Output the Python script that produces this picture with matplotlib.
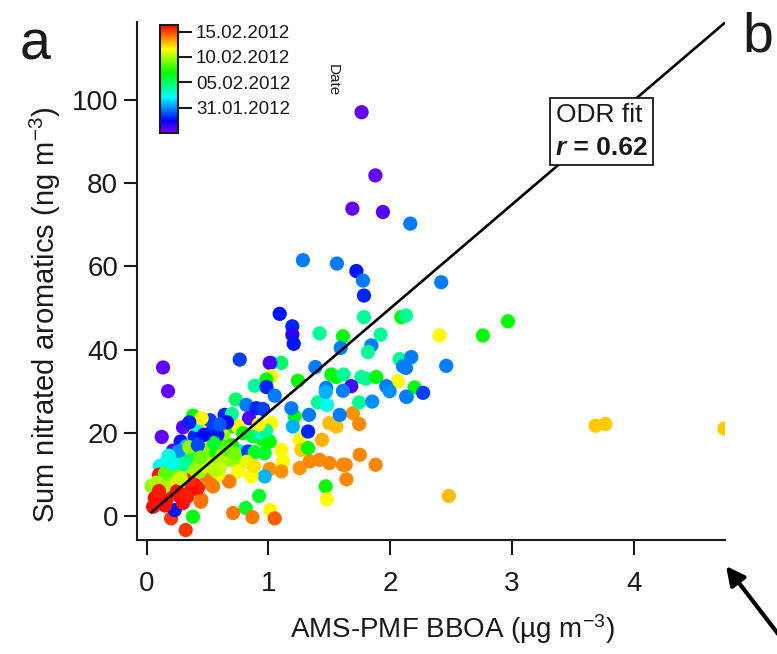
import numpy as np
import matplotlib
matplotlib.use("Agg")
import matplotlib.pyplot as plt
from matplotlib.colors import ListedColormap, hsv_to_rgb
from matplotlib.offsetbox import TextArea, HPacker, VPacker, AnnotationBbox

# AMS-PMF BBOA (ug m-3), sum nitrated aromatics (ng m-3), date (days after 26.01.2012)
bboa = [1.765, 1.878, 1.689, 1.940, 2.165, 1.283, 1.562, 1.722, 1.776, 2.419,
        1.784, 1.092, 1.784, 2.091, 2.13, 1.196, 1.196, 1.207, 1.420, 1.612,
        1.921, 2.405, 2.761, 2.967, 1.845, 1.817, 1.593, 2.077, 2.173, 2.105,
        2.46, 1.385, 1.106, 1.024, 1.01, 1.024, 1.242, 1.516, 1.557, 1.617,
        1.763, 1.80, 1.886, 2.064, 1.68, 1.967, 2.13, 1.474, 2.20, 2.27,
        2.137, 0.134, 0.175, 0.764, 0.887, 0.983, 0.983, 1.051, 0.731, 0.818,
        0.90, 0.955, 0.84, 1.024, 0.38, 0.484, 0.503, 0.298, 0.123, 0.279,
        0.216, 0.325, 0.394, 0.449, 0.545, 0.64, 0.408, 0.695, 0.75, 0.791,
        0.873, 0.955, 0.94, 0.627, 1.106, 1.12, 1.256, 1.106, 1.01, 0.969,
        0.86, 0.681, 0.545, 0.449, 0.923, 0.813, 0.709, 0.868, 1.015, 1.051,
        0.38, 0.2, 0.32, 0.23, 1.256, 1.27, 1.325, 1.50, 1.557, 1.44,
        1.338, 1.42, 1.50, 1.612, 1.47, 1.48, 1.694, 1.745, 1.75, 1.88,
        1.64, 1.634, 1.325, 1.333, 1.215, 1.188, 1.20, 1.585, 1.406, 1.48,
        1.47, 1.612, 1.745, 1.852, 1.995, 2.131, 3.686, 3.768, 4.745, 2.482,
        0.166, 0.244, 0.107, 0.271, 0.353, 0.49, 0.572, 0.627, 0.654, 0.723,
        0.764, 0.832, 0.887, 0.969, 1.01, 0.75, 0.676, 0.586, 0.53, 0.49,
        0.435, 0.394, 0.42, 0.298, 0.216, 0.12, 0.039, 0.216, 0.101, 0.066,
        0.107, 0.162, 0.052, 0.271, 0.298, 0.366, 0.443,
        0.30, 0.55, 0.60, 0.45, 0.20, 0.15, 0.08, 0.40, 0.33, 0.60,
        0.50, 0.70, 0.82, 0.88, 0.25, 0.12, 0.35, 0.26, 0.18, 0.52,
        0.58, 0.45, 0.70, 0.66, 0.30, 0.55, 0.98, 0.92,
        0.35, 0.62, 0.48, 0.66, 0.14, 0.22, 0.19, 0.15, 0.25, 0.33,
        0.35, 0.47, 0.42, 0.60, 0.40, 0.56, 0.72, 0.28, 0.10, 0.44]
nitro = [97.1, 81.9, 73.9, 73.1, 70.3, 61.5, 60.7, 58.9, 56.6, 56.2,
         53.0, 48.6, 47.8, 47.8, 48.2, 45.6, 43.6, 41.4, 43.9, 43.2,
         43.6, 43.4, 43.4, 46.8, 41.0, 39.4, 40.4, 37.7, 38.2, 36.0,
         36.1, 35.8, 36.8, 36.8, 36.8, 33.6, 32.5, 34.0, 33.4, 34.0,
         33.4, 33.0, 33.4, 32.4, 31.2, 31.2, 35.6, 30.8, 30.9, 29.6,
         28.6, 35.7, 30.0, 37.6, 31.3, 32.8, 31.0, 28.9, 28.0, 26.7,
         25.9, 25.7, 23.5, 22.3, 24.1, 22.7, 21.1, 21.3, 19.0, 17.9,
         15.7, 16.7, 19.1, 17.5, 20.7, 24.3, 21.9, 21.5, 21.5, 19.9,
         19.1, 18.3, 19.9, 19.5, 15.9, 13.1, 11.5, 10.7, 11.3, 9.5,
         9.5, 8.3, 7.1, 3.9, 4.8, 1.9, 0.7, -0.3, 1.4, -0.6,
         -0.2, -0.6, -3.4, 1.4, 18.3, 15.9, 16.3, 22.3, 21.5, 18.3,
         13.1, 13.5, 12.7, 12.3, 7.1, 4.0, 24.7, 22.1, 14.7, 12.3,
         8.8, 12.3, 20.3, 24.3, 23.9, 25.9, 21.5, 24.3, 27.3, 26.7,
         29.8, 30.1, 27.3, 27.5, 30.0, 28.7, 21.7, 22.1, 21.0, 4.8,
         13.3, 13.5, 12.0, 11.5, 13.1, 15.5, 15.1, 18.7, 13.5, 13.1,
         15.5, 15.5, 15.3, 15.1, 17.9, 10.7, 8.3, 9.9, 7.5, 9.5,
         10.7, 7.5, 6.7, 5.1, 6.3, 8.7, 7.2, 9.5, 9.9, 4.3,
         4.3, 3.9, 2.2, 4.7, 3.1, 6.3, 3.4,
         10.0, 12.5, 11.5, 13.5, 11.0, 10.2, 8.0, 15.0, 14.0, 17.0,
         18.5, 17.0, 13.0, 12.0, 8.0, 5.5, 8.5, 15.5, 14.5, 23.0,
         19.5, 23.5, 24.5, 22.5, 12.5, 17.5, 20.5, 22.0,
         16.5, 14.5, 12.0, 16.0, 7.0, 12.5, 13.0, 2.5, 6.0, 4.5,
         22.5, 19.5, 17.0, 22.0, 11.0, 11.0, 15.0, 9.0, 6.0, 14.0]
date_day = [0.5, 0.5, 0.5, 0.8, 4.7, 4.7, 4.7, 2.8, 4.7, 4.7,
            3.0, 2.8, 9.0, 11.8, 9.0, 3.0, 1.6, 2.8, 9.0, 11.8,
            9.0, 16.6, 11.8, 11.8, 4.7, 9.0, 4.7, 9.0, 4.7, 4.7,
            4.7, 4.7, 10.0, 5.7, 1.0, 16.6, 11.8, 11.8, 11.8, 9.0,
            9.0, 9.0, 11.8, 16.6, 1.0, 4.7, 4.7, 4.7, 11.8, 3.5,
            5.7, 0.5, 0.5, 3.5, 9.0, 11.8, 3.0, 4.7, 10.0, 4.7,
            3.0, 3.5, 1.0, 16.6, 11.8, 19.5, 16.6, 0.8, 0.5, 2.8,
            0.8, 6.0, 3.0, 11.8, 3.5, 3.0, 8.0, 11.8, 16.6, 11.8,
            10.5, 11.8, 8.0, 15.0, 16.6, 16.6, 18.5, 18.5, 18.5, 5.7,
            16.6, 18.0, 19.0, 19.0, 11.0, 11.0, 19.0, 19.0, 16.6, 19.5,
            11.5, 20.3, 20.3, 2.8, 16.6, 17.5, 11.8, 17.8, 17.8, 18.0,
            18.8, 18.8, 18.8, 18.8, 11.8, 16.6, 18.5, 18.8, 18.8, 18.8,
            18.8, 18.8, 3.0, 4.7, 11.8, 4.7, 5.7, 4.7, 9.0, 7.5,
            5.7, 4.7, 9.0, 5.0, 5.0, 4.7, 17.5, 17.5, 17.5, 17.8,
            7.1, 7.5, 7.5, 11.8, 14.5, 14.5, 11.8, 14.5, 14.5, 14.5,
            8.0, 3.5, 11.0, 11.0, 11.8, 16.6, 19.0, 16.6, 19.0, 19.0,
            14.5, 20.8, 20.8, 20.3, 21.0, 14.5, 14.5, 14.5, 21.0, 21.0,
            21.0, 21.0, 21.0, 21.0, 21.0, 21.0, 19.2,
            14.5, 14.5, 15.6, 15.0, 14.0, 13.5, 15.0, 12.5, 10.0, 13.0,
            15.6, 12.0, 16.0, 17.0, 16.0, 21.0, 20.5, 5.0, 7.5, 3.5,
            2.8, 16.6, 9.0, 2.0, 9.0, 11.0, 9.0, 16.6,
            14.5, 15.0, 15.6, 13.5, 15.0, 8.0, 7.5, 21.0, 21.0, 20.8,
            3.0, 2.5, 3.8, 4.0, 14.8, 15.2, 14.0, 15.6, 20.8, 13.8]

date_ticks = [5, 10, 15, 20]
date_labels = ["31.01.2012", "05.02.2012", "10.02.2012", "15.02.2012"]
date_range = (0, 21.3)

fit_slope = 25.0
fit_intercept = -0.1
fit_x = np.array([0.04, 4.75])

plt.rcParams["font.family"] = ["Liberation Sans", "DejaVu Sans"]
plt.rcParams["mathtext.fontset"] = "custom"
plt.rcParams["mathtext.rm"] = "Liberation Sans"
plt.rcParams["mathtext.it"] = "Liberation Sans:italic"
plt.rcParams["mathtext.bf"] = "Liberation Sans:bold"
txt = "#1a1a1a"

# Igor-like rainbow: hue 270 deg (violet) to 0 deg (red)
hue = np.linspace(270, 0, 256) / 360.0
cmap = ListedColormap(hsv_to_rgb(np.column_stack([hue, np.ones(256), np.ones(256)])))

fig = plt.figure(figsize=(7.77, 6.54), dpi=100)
ax = fig.add_axes([137 / 777, 1 - 540 / 654, 588 / 777, 518 / 654])

sc = ax.scatter(bboa, nitro, c=date_day, cmap=cmap, vmin=date_range[0], vmax=date_range[1],
                s=105, edgecolors="none", zorder=2)
ax.plot(fit_x, fit_slope * fit_x + fit_intercept, color="black", lw=1.9, zorder=3)

ax.set_xlim(-0.08, 4.75)
ax.set_ylim(-5.8, 118.8)
ax.set_xticks([0, 1, 2, 3, 4])
ax.set_yticks([0, 20, 40, 60, 80, 100])
for s in ["top", "right"]:
    ax.spines[s].set_visible(False)
for s in ["left", "bottom"]:
    ax.spines[s].set_linewidth(1.5)
    ax.spines[s].set_color(txt)
ax.tick_params(axis="x", direction="out", length=10.5, width=1.5, pad=12, labelsize=20, colors=txt)
ax.tick_params(axis="y", direction="out", length=9.5, width=1.5, pad=4, labelsize=20, colors=txt)

ax.set_xlabel("AMS-PMF BBOA (µg m$^{-3}$)", fontsize=20, color=txt, va="center")
ax.set_ylabel("Sum nitrated aromatics (ng m$^{-3}$)", fontsize=21, color=txt, va="center")
ax.xaxis.set_label_coords(0.536, -0.172)
ax.yaxis.set_label_coords(-0.156, 0.434)

# ODR fit box
t1 = TextArea("ODR fit", textprops=dict(fontsize=19, color=txt))
t2 = HPacker(children=[TextArea("r", textprops=dict(fontsize=19, style="italic", weight="bold", color=txt)),
                       TextArea(" = 0.62", textprops=dict(fontsize=19, weight="bold", color=txt))],
             pad=0, sep=0)
box = VPacker(children=[t1, t2], align="left", pad=0, sep=6)
ab = AnnotationBbox(box, (3.736, 92.5), xycoords="data", frameon=True, pad=0.4, zorder=4,
                    bboxprops=dict(edgecolor=txt, lw=1.3, facecolor="white"))
ax.add_artist(ab)

# colorbar
cax = fig.add_axes([160 / 777, 1 - 133 / 654, 18 / 777, 108 / 654])
cb = fig.colorbar(sc, cax=cax)
cb.set_ticks(date_ticks)
cb.set_ticklabels(date_labels)
cb.ax.tick_params(labelsize=13.5, length=10, width=1.5, pad=3, colors=txt)
cb.outline.set_linewidth(1.5)
cb.outline.set_edgecolor(txt)
fig.text(333 / 777, 1 - 80 / 654, "Date", rotation=-90, fontsize=11, ha="center", va="center", color=txt)

# panel letters and arrow
fig.text(35 / 777, 1 - 45 / 654, "a", fontsize=40, ha="center", va="center", color=txt)
fig.text(758 / 777, 1 - 38 / 654, "b", fontsize=40, ha="center", va="center", color=txt)
ax.annotate("", xy=(726, 88), xycoords="figure pixels", xytext=(795, -2), textcoords="figure pixels",
            arrowprops=dict(arrowstyle="-|>", lw=3, color="black", mutation_scale=28,
                            shrinkA=0, shrinkB=0), annotation_clip=False)

fig.savefig("out.png", dpi=100)
